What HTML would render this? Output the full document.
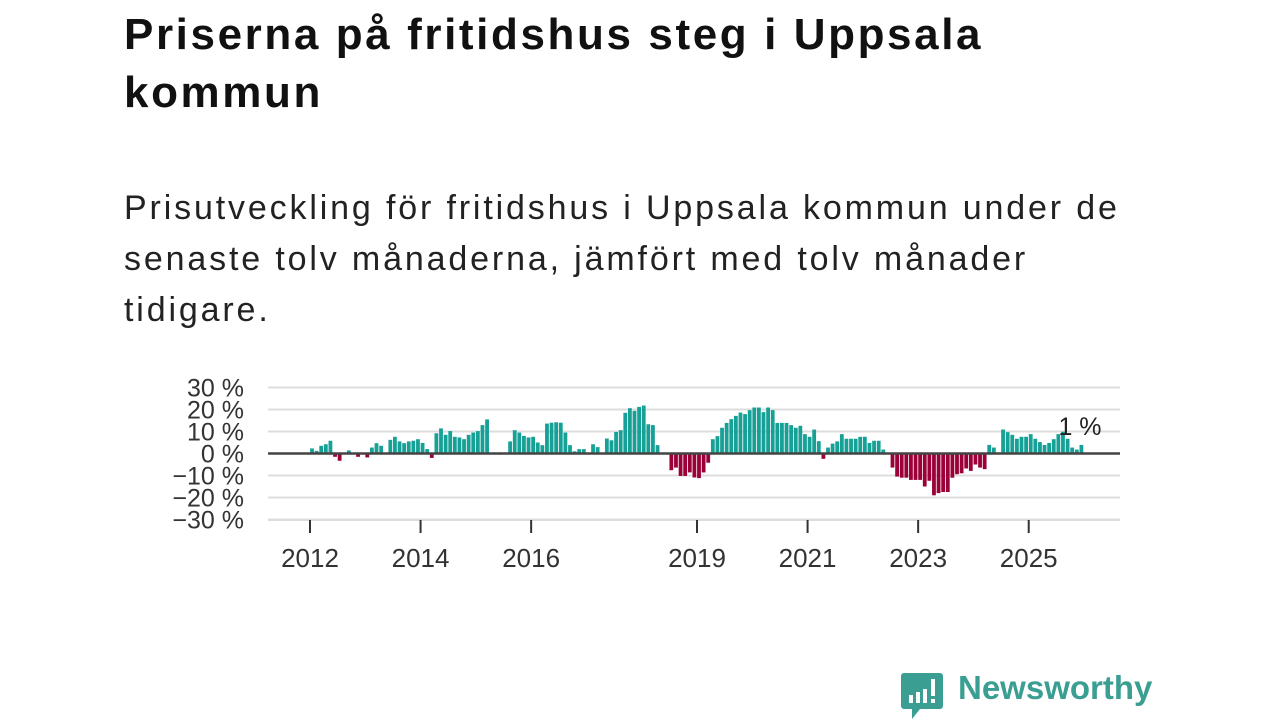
<!DOCTYPE html>
<html><head><meta charset="utf-8">
<style>
body{margin:0;width:1280px;height:720px;background:#fff;font-family:"Liberation Sans",sans-serif;overflow:hidden;position:relative}
h1{position:absolute;left:124px;top:6px;margin:0;font-size:44px;line-height:58px;font-weight:bold;color:#111;white-space:nowrap;letter-spacing:2.6px}
p.sub{position:absolute;left:124px;top:183px;margin:0;font-size:34px;line-height:51px;color:#222;white-space:nowrap;letter-spacing:2.85px}
svg{position:absolute;left:0;top:0}
.logo{position:absolute;left:958px;top:669px;font-size:33px;font-weight:bold;color:#3a9e92}
</style></head><body>
<h1>Priserna på fritidshus steg i Uppsala<br>kommun</h1>
<p class="sub">Prisutveckling för fritidshus i Uppsala kommun under de<br>senaste tolv månaderna, jämfört med tolv månader<br>tidigare.</p>
<svg id="chart" width="1280" height="720"></svg>
<svg width="1280" height="720">
<path d="M904 673h36a3 3 0 0 1 3 3v30a3 3 0 0 1-3 3h-20l-8 10v-10h-8a3 3 0 0 1-3-3v-30a3 3 0 0 1 3-3z" fill="#3a9e92"/>
<rect x="909" y="695" width="4" height="8" fill="#fff"/><rect x="916" y="692" width="4" height="11" fill="#fff"/><rect x="923" y="689" width="4" height="14" fill="#fff"/><rect x="931" y="679" width="4" height="17" fill="#fff"/><rect x="931" y="699" width="4" height="4" fill="#fff"/>
</svg>
<div class="logo">Newsworthy</div>
<script>
const values=[2.3,1.2,3.5,4.2,5.8,-1.5,-3.3,0,1.4,0.3,-1.5,0,-1.8,2.7,4.7,3.5,0,6.2,7.6,5.5,4.7,5.5,5.8,6.5,4.8,2.0,-2,9.2,11.4,8.5,10.2,7.6,7.3,6.5,8.5,9.5,10.2,12.9,15.5,0,0,-0.5,0,5.5,10.6,9.5,8,7.3,7.6,5,3.8,13.6,14,14.2,
14.0,9.5,3.8,1,2,2,0,4.2,2.9,0,6.8,6,9.8,10.6,18.5,20.6,19.4,21.2,21.8,13.3,12.9,3.8,0,0,-7.6,-6.4,-10.2,-10.2,-8.6,-10.9,-11.2,-8.6,-4.2,6.5,7.9,11.7,13.9,15.6,17.1,18.6,17.9,19.7,20.9,20.9,18.8,20.9,19.7,13.9,13.9,13.9,12.9,11.7,12.6,8.8,7.6,10.9,5.6,-2.4,2.7,4.5,5.5,
8.8,6.7,6.7,6.7,7.6,7.6,4.8,5.8,5.8,1.8,0,-6.4,-10.5,-11,-11,-12,-12,-12,-15,-12.4,-19,-18,-17.5,-17.5,-11,-9.4,-9,-6.8,-7.9,-5,-6.4,-7.1,3.9,2.7,0,10.9,9.7,8.5,6.7,7.6,7.6,8.8,6.7,5.2,3.9,4.8,6.5,8.8,9.9,6.7,2.7,1.8,3.9];
const startYear=2012;
const yTicks=[30,20,10,0,-10,-20,-30];
const yTickLabels=["30 %","20 %","10 %","0 %","\u221210 %","\u221220 %","\u221230 %"];
const xTickYears=[2012,2014,2016,2019,2021,2023,2025];
const lastLabel="1 %";
const svg=document.getElementById('chart');const NS='http://www.w3.org/2000/svg';
const y=v=>453.5-v*2.2;
const monthW=(697-310)/84;
const x=m=>310+m*monthW;
function el(t,a){const e=document.createElementNS(NS,t);for(const k in a)e.setAttribute(k,a[k]);svg.appendChild(e);return e;}
yTicks.forEach((t,i)=>{
 const g=el('line',{x1:268,x2:1120,y1:y(t),y2:y(t),stroke:'#ddd','stroke-width':2});
 
 
 const l=el('text',{x:244,y:y(t)+9,'text-anchor':'end','font-size':25,fill:'#333'});
 l.textContent=yTickLabels[i];
 
 
});
values.forEach((v,i)=>{
 const cx=x(i)+2;
 const r=el('rect',{x:cx-1.9,width:3.8,y:v>=0?y(v):y(0),height:Math.abs(y(v)-y(0)),fill:v>=0?'#16a096':'#9b0039'});
 
 
});
const z=el('line',{x1:268,x2:1120,y1:y(0),y2:y(0),stroke:'#444','stroke-width':2.5});


const ax=el('line',{x1:268,x2:1120,y1:520.5,y2:520.5,stroke:'#ddd','stroke-width':1});


xTickYears.forEach(yr=>{
 const px=x((yr-startYear)*12);
 const t=el('line',{x1:px,x2:px,y1:520,y2:533,stroke:'#333','stroke-width':2});
 
 
 const l=el('text',{x:px,y:567,'text-anchor':'middle','font-size':26,fill:'#333'});
 l.textContent=yr;
 
 
});
const ll=el('text',{x:1080,y:435,'text-anchor':'middle','font-size':25,fill:'#222'});
ll.textContent=lastLabel;


</script>
</body></html>
